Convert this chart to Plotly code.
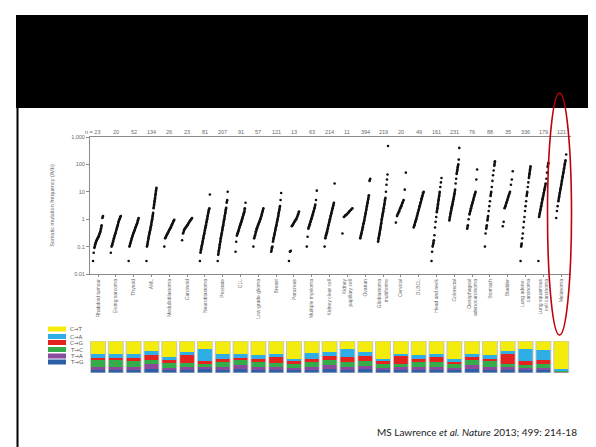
import math
import plotly.graph_objects as go

# ---------------- data ----------------
cancer_types = ["Rhabdoid tumour", "Ewing sarcoma", "Thyroid", "AML", "Medulloblastoma",
                "Carcinoid", "Neuroblastoma", "Prostate", "CLL", "Low-grade glioma",
                "Breast", "Pancreas", "Multiple myeloma", "Kidney clear cell",
                "Kidney<br>papillary cell", "Ovarian", "Glioblastoma<br>multiforme",
                "Cervical", "DLBCL", "Head and neck", "Colorectal",
                "Oesophageal<br>adenocarcinoma", "Stomach", "Bladder",
                "Lung adeno-<br>carcinoma", "Lung squamous<br>cell carcinoma", "Melanoma"]

n_labels = ["n = 23", "20", "52", "134", "26", "23", "81", "207", "91", "57", "121", "13",
            "63", "214", "11", "394", "219", "20", "49", "161", "231", "76", "88", "35",
            "336", "179", "121"]

# somatic mutation frequency (/Mb), sorted (representative points)
mutation_rates = [
    [0.03, 0.06, 0.09, 0.12, 0.14, 0.16, 0.18, 0.2, 0.22, 0.25, 0.3, 0.35, 0.45, 0.6, 1.1, 1.3],
    [0.06, 0.1, 0.12, 0.15, 0.2, 0.25, 0.3, 0.4, 0.5, 0.6, 0.8, 1.0, 1.2, 1.3],
    [0.03, 0.1, 0.13, 0.16, 0.2, 0.25, 0.3, 0.35, 0.4, 0.5, 0.6, 0.7, 0.9, 1.1],
    [0.03, 0.1, 0.12, 0.15, 0.2, 0.25, 0.3, 0.35, 0.4, 0.5, 0.6, 0.8, 1.0, 1.3, 1.7, 2.5, 3.4, 4.5, 5.6, 8, 11, 14],
    [0.1, 0.2, 0.23, 0.27, 0.3, 0.35, 0.4, 0.45, 0.5, 0.6, 0.7, 0.85, 0.95],
    [0.17, 0.3, 0.4, 0.45, 0.5, 0.55, 0.6, 0.7, 0.8, 0.9, 1.0, 1.1],
    [0.03, 0.06, 0.08, 0.1, 0.12, 0.15, 0.2, 0.25, 0.3, 0.4, 0.5, 0.6, 0.8, 1.0, 1.3, 1.7, 2.2, 2.5, 8],
    [0.03, 0.05, 0.07, 0.09, 0.12, 0.15, 0.2, 0.25, 0.3, 0.4, 0.5, 0.6, 0.8, 1.0, 1.3, 1.7, 2.2, 2.6, 4, 5, 10],
    [0.065, 0.15, 0.25, 0.3, 0.35, 0.4, 0.5, 0.6, 0.7, 0.8, 1.0, 1.2, 1.5, 1.8, 2.5, 4],
    [0.1, 0.2, 0.26, 0.35, 0.45, 0.5, 0.6, 0.7, 0.8, 1.0, 1.2, 1.5, 1.9, 2.5],
    [0.065, 0.09, 0.1, 0.15, 0.2, 0.25, 0.3, 0.4, 0.5, 0.6, 0.8, 1.0, 1.3, 1.7, 2.2, 3, 5, 9],
    [0.03, 0.065, 0.07, 0.55, 0.6, 0.7, 0.8, 0.9, 1.0, 1.2, 1.5, 1.9],
    [0.1, 0.23, 0.45, 0.55, 0.65, 0.8, 1.0, 1.2, 1.5, 1.9, 2.5, 3.4, 5, 11],
    [0.1, 0.2, 0.26, 0.3, 0.35, 0.45, 0.6, 0.8, 1.0, 1.3, 1.6, 2.0, 2.5, 3.2, 4, 20],
    [0.3, 1.2, 1.4, 1.5, 1.7, 2.0, 2.2, 2.5],
    [0.2, 0.25, 0.3, 0.4, 0.5, 0.7, 0.9, 1.2, 1.6, 2.2, 3, 4, 5.5, 7.5, 25, 30],
    [0.15, 0.2, 0.25, 0.3, 0.4, 0.5, 0.7, 1.0, 1.3, 1.6, 1.9, 2.5, 3.5, 5, 6, 10, 18, 28, 43, 470],
    [0.75, 1.3, 1.6, 1.9, 2.5, 3, 4, 5, 12, 50],
    [0.5, 0.6, 0.8, 1.0, 1.3, 1.7, 2.2, 3, 4, 5.5, 7, 9, 10],
    [0.03, 0.065, 0.1, 0.13, 0.17, 0.26, 0.5, 0.8, 1.2, 1.8, 2.5, 3.5, 5, 7, 10, 15, 22, 32],
    [0.9, 1.2, 1.6, 2, 2.5, 3, 3.5, 4.5, 5.5, 7, 8.5, 12, 20, 30, 45, 60, 80, 100, 150, 400],
    [0.45, 0.6, 1.0, 1.5, 2, 2.5, 3.2, 4, 5, 6.5, 8, 10, 28, 65],
    [0.1, 0.3, 0.45, 0.6, 0.9, 1.3, 2, 3, 4.5, 7, 10, 15, 25, 40, 60, 90, 130],
    [0.55, 0.8, 2.5, 3, 4, 5, 6.5, 8, 10, 18, 28, 56],
    [0.03, 0.1, 0.13, 0.2, 0.3, 0.5, 0.8, 1.2, 2, 3, 4.5, 7, 10, 15, 22, 32, 45, 65, 85],
    [0.03, 1.2, 1.6, 2.2, 3, 4, 5.5, 7, 9, 12, 15, 20, 30, 50, 80, 115],
    [1.1, 2, 3, 4.5, 6.5, 9, 13, 18, 25, 35, 50, 70, 100, 140, 230],
]

y_tick_vals = [0.01, 0.1, 1, 10, 100, 1000]
y_tick_text = ["0.01", "0.1", "1", "10", "100", "1,000"]

# mutation spectrum fractions per tumour type (stacked bottom -> top)
spectrum_names = ["T→G", "T→A", "T→C", "C→G", "C→A", "C→T"]
spectrum_colors = ["#2d5fa8", "#8b4a9c", "#35ac4a", "#e42320", "#2eaee5", "#f4ec0c"]
frac_TG = [.10, .10, .10, .12, .08, .10, .12, .10, .12, .10, .10, .08, .10, .12, .10, .12, .08, .08, .10, .10, .08, .12, .10, .08, .10, .10, .03]
frac_TA = [.10, .10, .10, .15, .08, .08, .08, .10, .12, .10, .08, .08, .10, .12, .10, .10, .08, .10, .10, .10, .08, .12, .10, .10, .06, .07, .02]
frac_TC = [.20, .20, .18, .15, .18, .12, .08, .15, .16, .15, .12, .12, .15, .18, .15, .15, .12, .10, .15, .15, .12, .18, .16, .10, .10, .12, .03]
frac_CG = [.08, .08, .10, .15, .06, .25, .10, .10, .08, .10, .20, .08, .08, .10, .15, .15, .08, .25, .10, .15, .07, .08, .08, .30, .12, .12, .01]
frac_CA = [.10, .12, .12, .13, .10, .10, .37, .15, .12, .10, .10, .09, .20, .15, .25, .15, .09, .07, .10, .10, .10, .10, .11, .12, .37, .32, .03]
frac_CT = [.42, .40, .40, .30, .50, .35, .25, .40, .40, .45, .40, .55, .37, .33, .25, .33, .55, .40, .45, .40, .55, .40, .45, .30, .25, .27, .88]
spectrum_fracs = [frac_TG, frac_TA, frac_TC, frac_CG, frac_CA, frac_CT]

citation = "MS Lawrence <i>et al.</i> <i>Nature</i> 2013; 499: 214-18"

# ---------------- figure ----------------
W, H = 596, 447
def fx(p):
    return p / W
def fy(p):
    return 1 - p / H

cols = list(range(len(cancer_types)))
AX = "#8a8a8a"
TXT = "#6a6a6a"

fig = go.Figure()

for i, vals in enumerate(mutation_rates):
    k = len(vals)
    xs = [i - 0.28 + 0.56 * j / (k - 1) for j in range(k)]
    lx, ly = [], []
    for j in range(k):
        if j > 0 and math.log10(vals[j]) - math.log10(vals[j - 1]) > 0.16:
            lx.append(None)
            ly.append(None)
        lx.append(xs[j])
        ly.append(vals[j])
    fig.add_trace(go.Scatter(x=lx, y=ly, mode="lines", line=dict(color="#111", width=2.4),
                             hoverinfo="skip", showlegend=False, xaxis="x", yaxis="y"))
    fig.add_trace(go.Scatter(x=xs, y=vals, mode="markers",
                             marker=dict(color="#111", size=2.6, line=dict(width=0)),
                             showlegend=False, xaxis="x", yaxis="y"))

for name, color, fr in zip(spectrum_names, spectrum_colors, spectrum_fracs):
    fig.add_trace(go.Bar(x=cols, y=fr, width=0.84, name=name,
                         marker=dict(color=color, line=dict(width=0)),
                         showlegend=False, xaxis="x2", yaxis="y2"))

shapes = []
# black header band
shapes.append(dict(type="rect", xref="paper", yref="paper", x0=fx(8), x1=1, y0=fy(100), y1=fy(7),
                   fillcolor="black", line=dict(width=0), layer="below"))
# slide borders
shapes.append(dict(type="line", xref="paper", yref="paper", x0=fx(9.5), x1=fx(9.5), y0=0, y1=fy(100),
                   line=dict(color="black", width=2)))
shapes.append(dict(type="line", xref="paper", yref="paper", x0=fx(594.5), x1=fx(594.5), y0=0, y1=fy(100),
                   line=dict(color="#444", width=1)))
# tile borders
for c in cols:
    shapes.append(dict(type="rect", xref="x2", yref="y2", x0=c - 0.42, x1=c + 0.42, y0=0, y1=1,
                       line=dict(color="#c8c8c8", width=1)))
# legend swatches
sw_y = [321, 328.5, 334.5, 341.5, 348, 354]
for (name, color), yy in zip(list(zip(spectrum_names, spectrum_colors))[::-1], sw_y):
    shapes.append(dict(type="rect", xref="paper", yref="paper", x0=fx(40), x1=fx(58),
                       y0=fy(yy + 2.5), y1=fy(yy - 2.5), fillcolor=color, line=dict(width=0)))
# red ellipse
shapes.append(dict(type="circle", xref="paper", yref="paper", x0=fx(539.5), x1=fx(563.5),
                   y0=fy(327), y1=fy(85), line=dict(color="#c0000a", width=1.6)))

annotations = []
for c, lab in zip(cols, n_labels):
    annotations.append(dict(x=c + (0.25 if c == 0 else 0), y=fy(124), xref="x", yref="paper",
                            text=lab, showarrow=False, xanchor="right" if c == 0 else "center",
                            yanchor="middle", font=dict(size=5.5, color=TXT, family="Arial")))
for (name, color), yy in zip(list(zip(spectrum_names, spectrum_colors))[::-1], sw_y):
    annotations.append(dict(x=fx(60), y=fy(yy), xref="paper", yref="paper", text=name,
                            showarrow=False, xanchor="left", yanchor="middle",
                            font=dict(size=5.5, color="#555", family="DejaVu Sans")))
annotations.append(dict(x=fx(367), y=fy(424), xref="paper", yref="paper", text=citation,
                        showarrow=False, xanchor="left", yanchor="middle",
                        font=dict(size=10, color="#222", family="Lato")))

fig.update_layout(
    width=W, height=H, margin=dict(l=0, r=0, t=0, b=0),
    paper_bgcolor="white", plot_bgcolor="white",
    barmode="stack", bargap=0,
    shapes=shapes, annotations=annotations,
    xaxis=dict(domain=[fx(82), fx(563)], range=[-0.45, 26.55], tickmode="array",
               tickvals=cols, ticktext=cancer_types, tickangle=-90,
               tickfont=dict(size=5, color=TXT, family="Arial"),
               ticks="outside", ticklen=2, tickcolor=AX, showline=True, linecolor=AX,
               linewidth=1, mirror=True, showgrid=False, zeroline=False, automargin=False,
               anchor="y"),
    yaxis=dict(domain=[fy(266), fy(129)], type="log", range=[-2, 3], tickmode="array",
               tickvals=y_tick_vals, ticktext=y_tick_text,
               tickfont=dict(size=5.5, color=TXT, family="Arial"),
               ticks="outside", ticklen=3, tickcolor=AX, showline=True, linecolor=AX,
               linewidth=1, showgrid=False, zeroline=False, automargin=False,
               title=dict(text="Somatic mutation frequency (/Mb)", standoff=16,
                          font=dict(size=5.5, color=TXT, family="Arial")),
               anchor="x"),
    xaxis2=dict(domain=[fx(82), fx(563)], range=[-0.45, 26.55], visible=False, anchor="y2"),
    yaxis2=dict(domain=[fy(365), fy(333)], range=[0, 1], visible=False, anchor="x2"),
)

fig.write_html("out.html")
